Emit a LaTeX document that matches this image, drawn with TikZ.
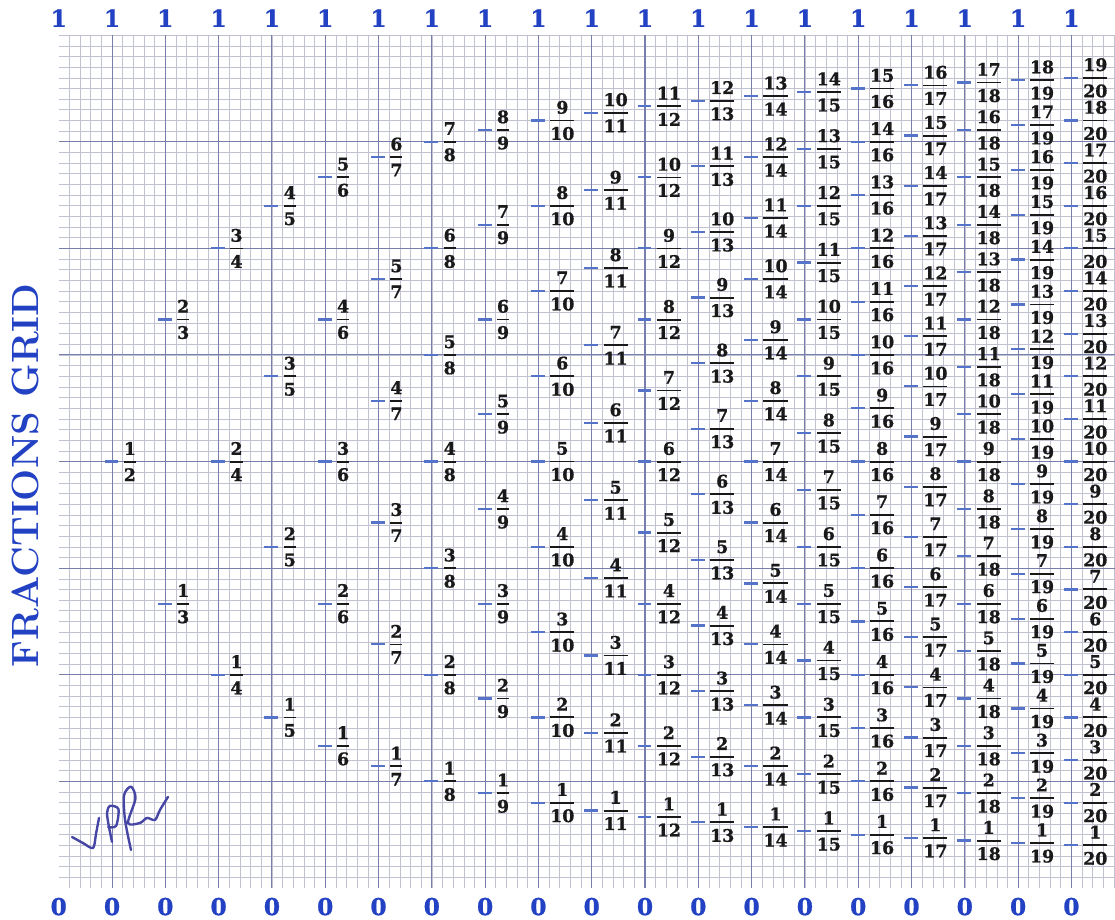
\documentclass[tikz,border=0pt]{standalone}
\usepackage{fontspec}
\usepackage{amsmath}
\usetikzlibrary{positioning}

\newfontfamily\digitfont{DejaVu Serif}[BoldFeatures={FakeBold=1}]

\definecolor{gridminor}{RGB}{192,194,210}
\definecolor{gridmajor}{RGB}{120,126,172}
\definecolor{inkblue}{RGB}{35,65,195}
\definecolor{notchblue}{RGB}{85,115,200}
\definecolor{penblue}{RGB}{70,70,165}

\newcommand{\fr}[2]{\genfrac{}{}{1.4pt}{0}{\hbox{\digitfont\bfseries #1}}{\hbox{\digitfont\bfseries #2}}}

\tikzset{
  minorline/.style={gridminor, line width=0.45pt},
  majorline/.style={gridmajor, line width=0.8pt},
  notch/.style={notchblue, line width=1.7pt},
  fraclabel/.style={inner sep=0pt, text=black!90, font=\fontsize{13}{15}\selectfont},
  endlabel/.style={inkblue, inner sep=0.5pt, font=\digitfont\bfseries\fontsize{17.5}{20}\selectfont},
  signature/.style={penblue, line width=1.8pt, line cap=round, line join=round},
}

\begin{document}
\begin{tikzpicture}[x=8pt,y=8pt]
  \useasboundingbox (-5.51,-3) rectangle (99.09,83.3);
  % graph paper
  \foreach \i in {1,...,99} \draw[minorline] (\i,0) -- (\i,80);
  \foreach \j in {1,...,80} \draw[minorline] (0,\j) -- (99.09,\j);
  \foreach \k in {1,...,19} \draw[majorline] (5*\k,0) -- (5*\k,80);
  \foreach \j in {1,...,7} \draw[majorline] (0,10*\j) -- (99.09,10*\j);

  % ones on top, zeros below
  \foreach \k in {0,...,19}{
    \node[endlabel] (one\k) at (5*\k,81.6) {1};
    \node[endlabel] (zero\k) at (5*\k,-1.75) {0};
  }

  % title
  \node[inkblue, rotate=90, font=\bfseries\fontsize{28.5}{30}\selectfont] (title) at (-3.16,38.7) {FRACTIONS GRID};

  % fractions k/n
  \foreach \n in {2,...,20}{
    \pgfmathtruncatemacro{\last}{\n-1}
    \foreach \k in {1,...,\last}{
      \coordinate (t\k-\n) at ({5*(\n-1)},{80*\k/\n});
      \draw[notch] ([xshift=-5.6pt]t\k-\n) -- ([xshift=4.8pt]t\k-\n);
      \node[fraclabel, right=7.5pt of t\k-\n] (f\k-\n) {$\fr{\k}{\n}$};
    }
  }

  % signature
  \draw[signature] plot[smooth] coordinates {(1.25,4.78) (2.3,4.2) (3.22,3.75) (3.5,5.1) (3.78,6.57)};
  \draw[signature] plot[smooth] coordinates {(5.0,4.32) (4.7,5.8) (4.53,7.04) (4.81,7.7) (5.6,7.4) (5.38,5.82) (4.63,5.72)};
  \draw[signature] plot[smooth] coordinates {(6.78,3.56) (6.22,6.38) (6.13,8.7) (6.78,9.5) (7.2,8.4) (6.5,6.1) (7.63,6.1) (8.28,6.57) (9.03,6.38) (9.5,7.32) (10.25,8.54)};
\end{tikzpicture}
\end{document}
